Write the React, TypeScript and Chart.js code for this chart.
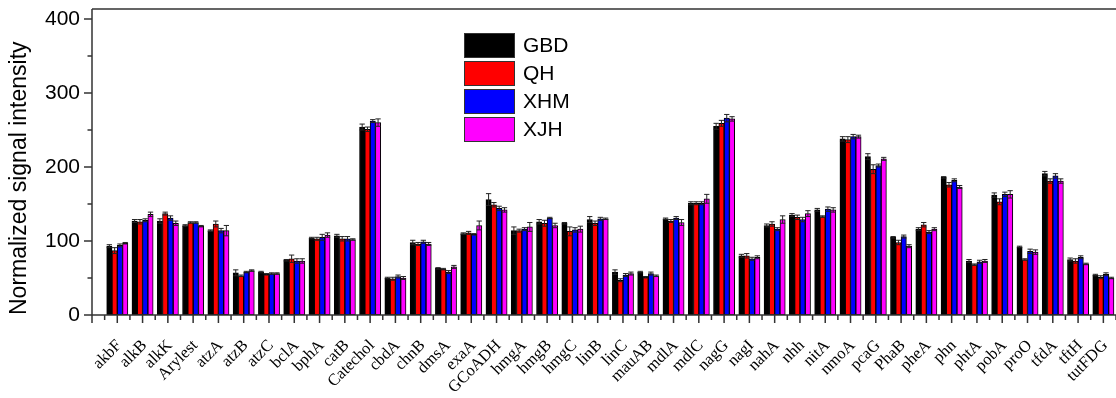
import React, { useEffect, useRef } from 'react';
import { Chart, registerables } from 'chart.js';

Chart.register(...registerables);

const categories = [
  'akbF', 'alkB', 'alkK', 'Arylest', 'atzA', 'atzB', 'atzC', 'bclA', 'bphA', 'catB',
  'Catechol', 'cbdA', 'chnB', 'dmsA', 'exaA', 'GCoADH', 'hmgA', 'hmgB', 'hmgC', 'linB',
  'linC', 'mauAB', 'mdlA', 'mdlC', 'nagG', 'nagI', 'nahA', 'nhh', 'nitA', 'nmoA',
  'pcaG', 'PhaB', 'pheA', 'phn', 'phtA', 'pobA', 'proO', 'tfdA', 'tftH', 'tutFDG',
];

const seriesNames = ['GBD', 'QH', 'XHM', 'XJH'];
const seriesColors = ['#000000', '#FF0000', '#0000FF', '#FF00FF'];

const gbdValues = [93, 127, 127, 121, 114, 57, 58, 74, 104, 107, 254, 50, 98, 63, 110, 156, 114, 126, 124, 129, 58, 58, 130, 151, 255, 80, 121, 135, 142, 238, 214, 105, 116, 186, 73, 162, 92, 191, 75, 54];
const qhValues = [87, 126, 137, 125, 123, 53, 55, 76, 103, 103, 251, 49, 96, 62, 111, 149, 114, 124, 113, 124, 47, 51, 127, 151, 259, 80, 123, 132, 133, 237, 197, 98, 122, 176, 68, 153, 75, 181, 73, 51];
const xhmValues = [94, 128, 131, 125, 114, 58, 56, 73, 105, 103, 262, 52, 99, 58, 109, 144, 116, 131, 115, 130, 54, 56, 131, 151, 266, 76, 116, 129, 143, 241, 202, 106, 112, 182, 72, 163, 86, 188, 78, 55];
const xjhValues = [97, 136, 124, 120, 114, 60, 56, 73, 108, 102, 260, 50, 96, 65, 121, 142, 119, 121, 116, 130, 56, 53, 125, 157, 265, 78, 129, 137, 142, 241, 211, 93, 116, 173, 73, 163, 85, 181, 69, 50];

const gbdErrors = [2, 2, 3, 1, 1, 4, 1, 1, 1, 2, 4, 1, 3, 1, 1, 8, 5, 3, 1, 4, 3, 1, 1, 2, 4, 2, 2, 2, 2, 3, 4, 1, 2, 1, 2, 3, 1, 3, 2, 1];
const qhErrors = [4, 3, 2, 1, 4, 1, 1, 5, 2, 3, 3, 2, 2, 1, 2, 3, 2, 4, 6, 3, 2, 1, 2, 2, 4, 3, 3, 3, 1, 4, 6, 3, 3, 3, 1, 4, 1, 3, 3, 2];
const xhmErrors = [2, 2, 3, 1, 3, 1, 1, 3, 4, 3, 2, 2, 2, 2, 1, 3, 2, 1, 3, 2, 2, 2, 2, 2, 5, 2, 2, 3, 3, 3, 2, 2, 2, 2, 2, 3, 3, 3, 2, 2];
const xjhErrors = [1, 3, 3, 1, 7, 1, 1, 3, 3, 1, 5, 2, 2, 2, 6, 3, 6, 3, 4, 1, 2, 1, 4, 6, 3, 2, 5, 4, 3, 2, 2, 2, 2, 2, 2, 5, 3, 3, 1, 1];

const seriesValues = [gbdValues, qhValues, xhmValues, xjhValues];
const seriesErrors = [gbdErrors, qhErrors, xhmErrors, xjhErrors];

const yMin = 0;
const yMax = 413.5;
const yStep = 100;
const xMin = -1;
const xMax = 39.5;

const AXIS_COLOR = '#333333';
const SANS = '"Liberation Sans", Arial, sans-serif';
const SERIF = '"Liberation Serif", "Times New Roman", serif';

const errorBarPlugin = {
  id: 'errorBars',
  afterDatasetsDraw(chart: any) {
    const { ctx } = chart;
    const yScale = chart.scales.y;
    ctx.save();
    ctx.strokeStyle = '#222222';
    ctx.lineWidth = 1;
    chart.data.datasets.forEach((ds: any, di: number) => {
      const meta = chart.getDatasetMeta(di);
      const errs = seriesErrors[di];
      meta.data.forEach((el: any, i: number) => {
        const v = seriesValues[di][i];
        const e = errs[i];
        const yTop = yScale.getPixelForValue(v + e);
        const yBot = yScale.getPixelForValue(v - e);
        const half = el.width / 2;
        ctx.beginPath();
        ctx.moveTo(el.x, yTop);
        ctx.lineTo(el.x, yBot);
        ctx.moveTo(el.x - half, yTop);
        ctx.lineTo(el.x + half, yTop);
        ctx.moveTo(el.x - half, yBot);
        ctx.lineTo(el.x + half, yBot);
        ctx.stroke();
      });
    });
    ctx.restore();
  },
};

const frameTicksPlugin = {
  id: 'frameTicks',
  afterDraw(chart: any) {
    const { ctx, chartArea } = chart;
    const xs = chart.scales.x;
    const ys = chart.scales.y;
    ctx.save();
    ctx.strokeStyle = AXIS_COLOR;
    ctx.lineWidth = 1.5;
    ctx.beginPath();
    ctx.moveTo(chartArea.left, chartArea.top);
    ctx.lineTo(chartArea.right, chartArea.top);
    ctx.moveTo(chartArea.left, chartArea.top);
    ctx.lineTo(chartArea.left, chartArea.bottom);
    ctx.moveTo(chartArea.left - 8, chartArea.bottom);
    ctx.lineTo(chartArea.right, chartArea.bottom);
    for (let v = xs.min; v <= xs.max + 1e-6; v += 0.5) {
      const px = xs.getPixelForValue(v);
      const major = Math.abs(v - Math.round(v)) < 1e-6;
      ctx.moveTo(px, chartArea.bottom);
      ctx.lineTo(px, chartArea.bottom + (major ? 8 : 5));
    }
    for (let v = yMin; v <= ys.max + 1e-6; v += yStep / 2) {
      const py = ys.getPixelForValue(v);
      const major = Math.abs(v / yStep - Math.round(v / yStep)) < 1e-6;
      ctx.moveTo(chartArea.left, py);
      ctx.lineTo(chartArea.left - (major ? 8 : 4.5), py);
    }
    ctx.stroke();
    ctx.restore();
  },
};

const boxLegendPlugin = {
  id: 'boxLegend',
  afterDraw(chart: any) {
    const { ctx } = chart;
    const left = 464;
    const top = 33;
    const boxW = 51;
    const boxH = 25;
    const rowH = 28;
    ctx.save();
    ctx.font = `21px ${SANS}`;
    ctx.textBaseline = 'middle';
    ctx.textAlign = 'left';
    chart.data.datasets.forEach((ds: any, i: number) => {
      const y = top + i * rowH;
      ctx.fillStyle = ds.backgroundColor;
      ctx.fillRect(left, y, boxW, boxH);
      ctx.strokeStyle = '#333333';
      ctx.lineWidth = 1;
      ctx.strokeRect(left + 0.5, y + 0.5, boxW - 1, boxH - 1);
      ctx.fillStyle = '#000000';
      ctx.fillText(ds.label, left + boxW + 8, y + boxH / 2 + 1);
    });
    ctx.restore();
  },
};

const zeroPadding = (scale: any) => {
  scale.paddingTop = 0;
  scale.paddingBottom = 0;
  scale.paddingLeft = 0;
  scale.paddingRight = 0;
};

export default function App() {
  const canvasRef = useRef<HTMLCanvasElement | null>(null);

  useEffect(() => {
    const canvas = canvasRef.current;
    if (!canvas) return;
    const chart = new Chart(canvas, {
      type: 'bar',
      data: {
        datasets: seriesNames.map((name, si) => ({
          label: name,
          data: categories.map((_, i) => ({ x: i, y: seriesValues[si][i] })),
          backgroundColor: seriesColors[si],
          borderColor: '#000000',
          borderWidth: 1,
          borderSkipped: false,
          barThickness: 5.3,
        })),
      },
      options: {
        responsive: false,
        animation: false,
        devicePixelRatio: 1,
        layout: { padding: { top: 9, right: 0, left: 0, bottom: 0 } },
        plugins: {
          legend: { display: false },
          tooltip: { enabled: false },
        },
        scales: {
          x: {
            type: 'linear',
            min: xMin,
            max: xMax,
            offset: false,
            grid: { display: false, drawTicks: false },
            border: { display: false },
            ticks: {
              stepSize: 1,
              includeBounds: false,
              autoSkip: false,
              maxRotation: 45,
              minRotation: 45,
              padding: 21,
              labelOffset: 2,
              color: '#000000',
              font: { family: SERIF, size: 16.5 },
              callback: (value: any) => {
                const idx = Math.round(Number(value));
                return Math.abs(Number(value) - idx) < 1e-6 && idx >= 0 && idx < categories.length ? categories[idx] : '';
              },
            },
            afterFit: (scale: any) => {
              scale.height = 83;
              zeroPadding(scale);
            },
          },
          y: {
            type: 'linear',
            min: yMin,
            max: yMax,
            grid: { display: false, drawTicks: false },
            border: { display: false },
            ticks: {
              stepSize: yStep,
              includeBounds: false,
              padding: 12,
              color: '#000000',
              font: { family: SANS, size: 21 },
            },
            title: {
              display: true,
              text: 'Normalized signal intensity',
              align: 'start',
              color: '#000000',
              font: { family: SANS, size: 23 },
              padding: { top: 6, bottom: 0 },
            },
            afterFit: (scale: any) => {
              scale.width = 92;
              zeroPadding(scale);
            },
          },
        },
      },
      plugins: [errorBarPlugin, frameTicksPlugin, boxLegendPlugin],
    } as any);
    return () => chart.destroy();
  }, []);

  return (
    <div style={{ position: 'absolute', left: 0, top: 0, width: 1116, height: 398, background: '#ffffff' }}>
      <canvas ref={canvasRef} width={1116} height={398} />
    </div>
  );
}
